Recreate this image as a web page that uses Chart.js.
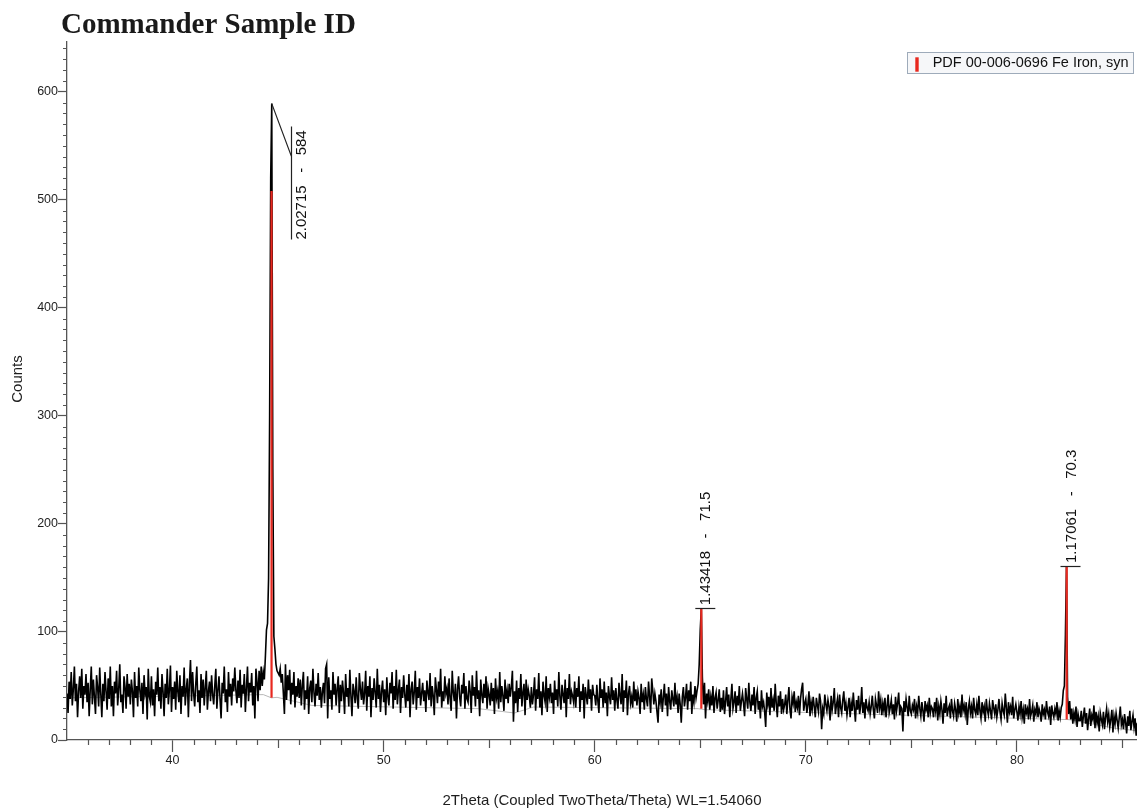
<!DOCTYPE html>
<html>
<head>
<meta charset="utf-8">
<title>Commander Sample ID</title>
<script src="https://cdn.jsdelivr.net/npm/chart.js@4.4.1/dist/chart.umd.min.js"></script>
<style>
  html, body { margin: 0; padding: 0; background: #fff; }
  #wrap { width: 1137px; height: 810px; position: relative; }
</style>
</head>
<body>
<div id="wrap"><canvas id="xrd"></canvas></div>
<script>
// scan: 2Theta from 35.00 deg, one count value every 0.05 deg
const scanStart = 35.0;
const scanStep = 0.05;
const counts = [
  43, 25, 54, 38, 63, 32, 47, 68, 36, 52, 21, 45, 59, 39, 66, 29, 50, 42, 61, 35, // 35
  53, 22, 46, 68, 33, 56, 40, 24, 60, 49, 31, 67, 43, 21, 52, 36, 63, 45, 28, 57, // 36
  38, 68, 31, 50, 22, 54, 43, 64, 32, 47, 70, 35, 42, 25, 59, 49, 29, 61, 40, 52, // 37
  33, 56, 45, 21, 63, 39, 50, 31, 67, 46, 36, 53, 24, 60, 43, 49, 19, 66, 40, 35, // 38
  59, 32, 47, 22, 54, 42, 67, 36, 49, 29, 61, 45, 22, 52, 39, 66, 33, 46, 69, 26, // 39
  49, 38, 54, 28, 64, 45, 35, 60, 24, 50, 40, 67, 32, 47, 57, 21, 53, 74, 36, 63, // 40
  43, 31, 52, 68, 35, 46, 25, 61, 39, 56, 32, 49, 64, 28, 45, 54, 36, 60, 42, 33, // 41
  50, 66, 29, 46, 59, 38, 20, 53, 43, 68, 35, 47, 26, 63, 40, 52, 32, 57, 45, 67, // 42
  46, 34, 55, 39, 65, 30, 51, 43, 61, 26, 48, 68, 36, 53, 44, 62, 32, 50, 20, 66, // 43
  54, 36, 64, 46, 68, 50, 63, 56, 78, 102, 108, 150, 300, 520, 589, 250, 96, 84, 70, 64, // 44
  62, 60, 66, 53, 61, 43, 24, 70, 37, 60, 46, 65, 33, 53, 42, 63, 30, 50, 40, 57, // 45
  39, 56, 32, 51, 63, 28, 46, 38, 59, 24, 48, 55, 35, 66, 44, 31, 52, 41, 62, 37, // 46
  49, 30, 45, 53, 34, 66, 70, 20, 58, 38, 46, 28, 63, 42, 52, 32, 48, 59, 25, 51, // 47
  36, 55, 44, 24, 61, 40, 48, 31, 65, 41, 22, 52, 45, 34, 58, 38, 29, 62, 47, 37, // 48
  54, 33, 43, 64, 27, 50, 40, 59, 21, 48, 37, 57, 44, 30, 66, 38, 51, 26, 45, 55, // 49
  35, 47, 23, 58, 40, 32, 53, 43, 63, 29, 50, 37, 65, 33, 46, 56, 25, 49, 39, 60, // 50
  42, 30, 51, 36, 61, 21, 47, 54, 33, 44, 64, 28, 49, 39, 57, 32, 43, 53, 36, 46, // 51
  26, 55, 44, 37, 62, 31, 50, 41, 23, 58, 47, 34, 54, 40, 66, 30, 45, 36, 59, 43, // 52
  48, 33, 57, 38, 27, 64, 44, 36, 52, 20, 47, 59, 40, 31, 51, 43, 62, 29, 50, 38, // 53
  35, 55, 45, 25, 60, 41, 49, 31, 64, 38, 46, 22, 56, 42, 34, 52, 39, 59, 29, 48, // 54
  42, 32, 53, 36, 48, 24, 57, 39, 45, 29, 63, 35, 50, 41, 27, 56, 38, 46, 34, 52, // 55
  40, 49, 64, 17, 45, 34, 55, 26, 48, 38, 61, 31, 44, 52, 23, 56, 37, 47, 41, 30, // 56
  49, 33, 42, 58, 27, 47, 38, 62, 30, 45, 23, 54, 41, 35, 59, 26, 48, 40, 52, 34, // 57
  44, 24, 55, 37, 47, 31, 63, 40, 28, 51, 42, 34, 56, 21, 48, 38, 61, 33, 45, 41, // 58
  35, 54, 30, 48, 40, 59, 26, 45, 37, 52, 20, 49, 41, 33, 56, 38, 47, 27, 51, 42, // 59
  41, 32, 51, 36, 25, 57, 39, 47, 30, 54, 34, 44, 22, 50, 40, 33, 58, 37, 46, 27, // 60
  48, 37, 29, 53, 41, 33, 61, 26, 46, 39, 55, 23, 43, 50, 34, 40, 30, 54, 36, 47, // 61
  32, 45, 39, 24, 52, 35, 42, 28, 49, 38, 31, 54, 40, 25, 57, 46, 33, 43, 36, 26, // 62
  16, 42, 35, 47, 26, 39, 52, 32, 43, 22, 49, 36, 28, 46, 38, 31, 53, 33, 40, 25, // 63
  43, 33, 16, 40, 49, 31, 39, 52, 28, 46, 36, 54, 24, 42, 35, 50, 39, 46, 52, 70, // 64
  102, 122, 58, 33, 53, 20, 43, 36, 47, 28, 40, 32, 50, 25, 39, 44, 29, 37, 47, 26, // 65
  39, 28, 46, 24, 36, 49, 31, 42, 21, 38, 52, 29, 35, 45, 25, 41, 32, 50, 27, 36, // 66
  43, 34, 22, 48, 38, 29, 53, 35, 27, 42, 32, 49, 24, 39, 45, 28, 36, 20, 46, 31, // 67
  35, 26, 12, 44, 33, 40, 23, 48, 30, 37, 27, 52, 34, 21, 41, 31, 45, 24, 38, 28, // 68
  33, 42, 24, 37, 49, 28, 20, 40, 34, 45, 26, 35, 30, 41, 23, 38, 47, 53, 27, 34, // 69
  38, 25, 33, 45, 22, 35, 28, 40, 31, 21, 39, 32, 26, 43, 36, 10, 29, 24, 42, 33, // 70
  27, 37, 31, 18, 41, 28, 35, 48, 24, 32, 38, 21, 42, 30, 25, 37, 45, 27, 34, 23, // 71
  31, 39, 21, 34, 27, 44, 30, 17, 37, 28, 41, 24, 32, 49, 25, 35, 20, 38, 30, 27, // 72
  35, 24, 31, 41, 28, 20, 38, 32, 25, 45, 30, 37, 23, 34, 27, 39, 21, 31, 42, 25, // 73
  30, 37, 24, 33, 19, 40, 27, 34, 44, 23, 31, 29, 8, 36, 26, 38, 30, 22, 41, 27, // 74
  24, 32, 28, 38, 20, 31, 25, 41, 29, 22, 35, 27, 17, 36, 28, 32, 21, 39, 25, 31, // 75
  29, 21, 35, 27, 39, 18, 31, 24, 36, 28, 15, 34, 25, 41, 22, 29, 32, 20, 38, 27, // 76
  22, 34, 28, 17, 38, 25, 31, 21, 42, 27, 32, 24, 35, 14, 29, 36, 25, 31, 20, 39, // 77
  28, 24, 33, 23, 41, 27, 20, 35, 26, 31, 17, 38, 28, 23, 34, 27, 19, 37, 30, 24, // 78
  33, 21, 28, 38, 26, 19, 34, 27, 23, 43, 30, 16, 35, 26, 31, 23, 40, 20, 28, 33, // 79
  26, 18, 31, 24, 36, 21, 28, 15, 33, 25, 29, 19, 38, 22, 26, 32, 17, 28, 24, 35, // 80
  21, 29, 25, 17, 33, 24, 28, 19, 36, 26, 22, 31, 14, 32, 25, 21, 29, 24, 35, 18, // 81
  27, 21, 30, 33, 46, 50, 98, 161, 40, 24, 36, 19, 29, 15, 25, 19, 31, 12, 24, 18, // 82
  18, 27, 12, 22, 30, 15, 25, 9, 20, 29, 13, 23, 19, 32, 11, 26, 16, 22, 8, 25, // 83
  19, 14, 26, 10, 21, 29, 17, 24, 12, 19, 28, 7, 22, 15, 25, 18, 11, 21, 31, 14, // 84
  19, 10, 24, 16, 6, 22, 13, 27, 9, 17, 23, 12, 20, 4, 16                           // 85
];

// fitted background (grey curve)
const bgTheta  = [35.0, 44.3, 44.69, 44.95, 46.6, 54.5, 56.2, 57.1, 64.9, 65.05, 65.3, 82.1, 82.36, 82.6, 84.6, 85.7];
const bgCounts = [39,   42,   39,    39.5,  32,   29,   25,   30.5, 29,   28.5,  28,   19,   19,    18.5, 11,   8.5];

// PDF 00-006-0696 Fe Iron, syn : reference sticks (drawn from background up)
const pdfLabel = 'PDF 00-006-0696 Fe Iron, syn';
const pdfTheta = [44.69, 65.05, 82.36];
const pdfBase  = [39, 29, 19];
const pdfTop   = [508, 122, 161];

// peak labels: d-spacing - net counts
const peakTheta  = [44.70, 65.05, 82.35];
const peakCounts = [589, 122, 161];
const peakD      = ['2.02715', '1.43418', '1.17061'];
const peakNet    = ['584', '71.5', '70.3'];

const axisColor = '#555';
const textColor = '#1e1e1e';
const sansFont = '"Liberation Sans", Arial, sans-serif';
Chart.defaults.font.family = sansFont;

const scanData = counts.map((c, i) => ({ x: +(scanStart + i * scanStep).toFixed(2), y: c }));
const bgData = bgTheta.map((t, i) => ({ x: t, y: bgCounts[i] }));
const stickData = pdfTheta.flatMap((t, i) => [
    { x: t, y: pdfBase[i] }, { x: t, y: pdfTop[i] }, { x: t, y: null },
]);

// title, legend box, minor ticks, peak labels
const decor = {
    id: 'decor',
    afterDraw(chart) {
        const { ctx, chartArea: area, scales: { x, y } } = chart;
        ctx.save();

        // minor ticks
        ctx.strokeStyle = axisColor;
        ctx.lineWidth = 1.2;
        ctx.beginPath();
        for (let t = 36; t <= 85; t++) {
            if (t % 10 === 0) continue;
            const px = Math.round(x.getPixelForValue(t)) + 0.5;
            ctx.moveTo(px, area.bottom);
            ctx.lineTo(px, area.bottom + (t % 5 === 0 ? 8 : 5));
        }
        for (let c = 10; c <= 640; c += 10) {
            if (c % 100 === 0) continue;
            const py = Math.round(y.getPixelForValue(c)) + 0.5;
            ctx.moveTo(area.left - 4, py);
            ctx.lineTo(area.left, py);
        }
        ctx.stroke();

        // title
        ctx.fillStyle = '#1a1a1a';
        ctx.font = 'bold 29px "Liberation Serif", "Times New Roman", serif';
        ctx.textAlign = 'left';
        ctx.textBaseline = 'alphabetic';
        ctx.fillText('Commander Sample ID', 61, 33);

        // y axis title
        ctx.save();
        ctx.translate(18, 379);
        ctx.rotate(-Math.PI / 2);
        ctx.font = '15px ' + sansFont;
        ctx.fillStyle = textColor;
        ctx.textAlign = 'center';
        ctx.textBaseline = 'middle';
        ctx.fillText('Counts', 0, 0);
        ctx.restore();

        // legend
        ctx.fillStyle = '#f6f7f9';
        ctx.fillRect(907.5, 52.5, 226, 21);
        ctx.strokeStyle = '#9eabba';
        ctx.lineWidth = 1;
        ctx.strokeRect(907.5, 52.5, 226, 21);
        ctx.fillStyle = '#e8281f';
        ctx.fillRect(915.3, 57.3, 3.4, 14.4);
        ctx.fillStyle = '#111';
        ctx.font = '14.5px ' + sansFont;
        ctx.textBaseline = 'middle';
        ctx.fillText(chart.data.datasets[0].label, 932.7, 63);

        // peak labels
        ctx.strokeStyle = '#222';
        ctx.lineWidth = 1.2;
        ctx.font = '15px ' + sansFont;
        ctx.fillStyle = '#111';
        peakTheta.forEach((t, i) => {
            const px = x.getPixelForValue(t);
            const py = y.getPixelForValue(peakCounts[i]);
            const label = peakD[i] + '   -   ' + peakNet[i];
            let tx, ty;
            ctx.beginPath();
            if (i === 0) {
                // label pushed aside with a leader line
                const lx = Math.round(px + 19) + 0.5;
                ctx.moveTo(px, py);
                ctx.lineTo(lx, py + 53);
                ctx.moveTo(lx, py + 23);
                ctx.lineTo(lx, py + 136);
                tx = px + 30;
                ty = py + 136;
            } else {
                const by = Math.round(py) + 0.5;
                ctx.moveTo(px - 6, by);
                ctx.lineTo(px + 14, by);
                tx = px + 5;
                ty = py - 3;
            }
            ctx.stroke();
            ctx.save();
            ctx.translate(tx, ty);
            ctx.rotate(-Math.PI / 2);
            ctx.textAlign = 'left';
            ctx.textBaseline = 'middle';
            ctx.fillText(label, 0, 0);
            ctx.restore();
        });

        ctx.restore();
    },
};

new Chart(document.getElementById('xrd'), {
    type: 'line',
    data: {
        datasets: [
            {
                label: pdfLabel,
                data: stickData,
                borderColor: '#e8281f',
                borderWidth: 2.2,
                pointRadius: 0,
                spanGaps: false,
                order: 0,
            },
            {
                label: 'Commander Sample ID',
                data: scanData,
                borderColor: '#000',
                borderWidth: 1.6,
                pointRadius: 0,
                tension: 0,
                order: 1,
            },
            {
                label: 'Background',
                data: bgData,
                borderColor: '#b8b8b8',
                borderWidth: 1,
                pointRadius: 0,
                order: 2,
            },
        ],
    },
    options: {
        animation: false,
        responsive: true,
        maintainAspectRatio: false,
        devicePixelRatio: 1,
        events: [],
        layout: { padding: { top: 42, left: 0, right: 0, bottom: 0 } },
        plugins: {
            legend: { display: false },
            tooltip: { enabled: false },
            title: { display: false },
        },
        scales: {
            x: {
                type: 'linear',
                min: 35,
                max: 85.69,
                afterFit: s => { s.height = 70; },
                ticks: {
                    stepSize: 10,
                    includeBounds: false,
                    maxRotation: 0,
                    autoSkip: false,
                    padding: 1,
                    color: textColor,
                    font: { size: 12.5 },
                },
                grid: {
                    drawOnChartArea: false,
                    tickLength: 12,
                    tickColor: axisColor,
                    tickWidth: 1.2,
                },
                border: { color: axisColor, width: 1.3 },
                title: {
                    display: true,
                    text: '2Theta (Coupled TwoTheta/Theta) WL=1.54060',
                    color: textColor,
                    font: { size: 15 },
                    padding: { top: 0, bottom: 0 },
                },
            },
            y: {
                type: 'linear',
                min: 0,
                max: 646,
                afterFit: s => { s.width = 67; },
                ticks: {
                    stepSize: 100,
                    includeBounds: false,
                    padding: 0,
                    color: textColor,
                    font: { size: 12.5 },
                },
                grid: {
                    drawOnChartArea: false,
                    tickLength: 9,
                    tickColor: axisColor,
                    tickWidth: 1.2,
                },
                border: { color: axisColor, width: 1.3 },
            },
        },
    },
    plugins: [decor],
});
</script>
</body>
</html>
